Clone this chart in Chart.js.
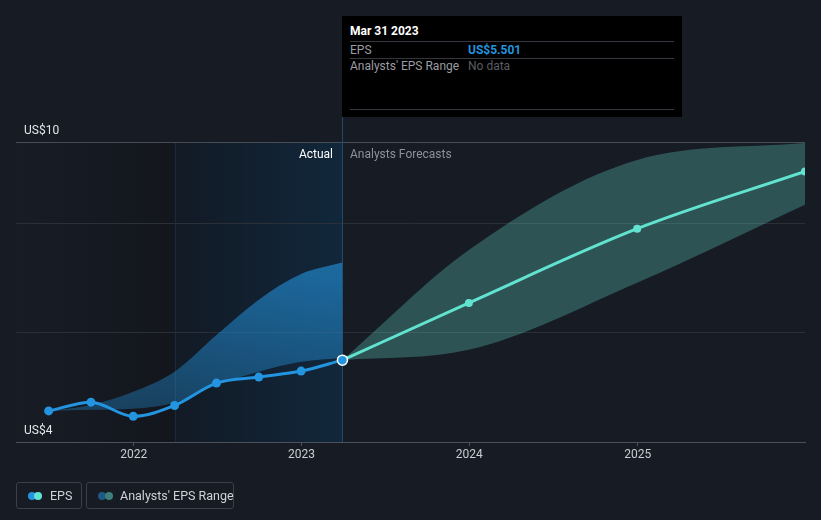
<!DOCTYPE html>
<html><head><meta charset="utf-8">
<script src="https://cdn.jsdelivr.net/npm/chart.js@4"></script>
<style>
html,body{margin:0;padding:0;background:#161b24;}
#wrap{position:relative;width:821px;height:520px;font-family:Roboto,"Open Sans",sans-serif;overflow:hidden;}
#c{position:absolute;left:0;top:0;}
#tip{position:absolute;top:16px;width:340px;height:101px;background:#000;}
#tip div{position:absolute;white-space:nowrap;line-height:14px;}
#tip .sep{height:1px;background:#34373d;left:8px;width:324px;}
.lbl{position:absolute;top:147px;font-size:12px;line-height:14px;white-space:nowrap;}
.lg{position:absolute;top:482px;height:25px;border:1px solid #3a3f49;border-radius:3px;box-sizing:content-box;}
.lg .dot{position:absolute;top:9px;width:8px;height:8px;border-radius:50%;}
.lg .t{position:absolute;top:5px;font-size:12.5px;line-height:15px;color:#cfd2d6;white-space:nowrap;}
</style></head><body>
<div id="wrap">
<canvas id="c" width="821" height="520"></canvas>
<div id="tip">
  <div style="left:8px;top:8px;font-size:12px;font-weight:bold;color:#fff;">Mar 31 2023</div>
  <div class="sep" style="top:25px;"></div>
  <div style="left:8px;top:27px;font-size:12px;color:#9a9da3;">EPS</div>
  <div id="tipVal" style="left:126px;top:27px;font-size:12px;font-weight:bold;color:#2394df;"></div>
  <div class="sep" style="top:42px;"></div>
  <div style="left:8px;top:43px;font-size:12px;color:#9a9da3;">Analysts' EPS Range</div>
  <div style="left:126px;top:43px;font-size:12px;color:#5a5d63;">No data</div>
  <div class="sep" style="top:93px;"></div>
</div>
<div class="lbl" id="lblA" style="color:#ffffff;">Actual</div>
<div class="lbl" id="lblF" style="color:#8d9199;">Analysts Forecasts</div>
<div class="lg" style="left:16px;width:64px;">
  <div class="dot" style="left:11px;background:#2394df;"></div>
  <div class="dot" style="left:17px;background:#62e3cf;"></div>
  <div class="t" style="left:33px;">EPS</div>
</div>
<div class="lg" style="left:86px;width:146px;">
  <div class="dot" style="left:11px;background:#1f5a86;"></div>
  <div class="dot" style="left:18px;background:#3d7f7a;"></div>
  <div class="t" style="left:33px;">Analysts' EPS Range</div>
</div>
</div>
<script>
// ---- data ----
const actualDates = ['2021-06-30','2021-09-30','2021-12-31','2022-03-31','2022-06-30','2022-09-30','2022-12-31','2023-03-31'];
const actualEps   = [4.57, 4.73, 4.47, 4.67, 5.08, 5.19, 5.30, 5.501];
const pastRangeHigh = [4.57, 4.68, 4.92, 5.29, 5.96, 6.61, 7.08, 7.29];
const pastRangeLow  = [4.57, 4.59, 4.61, 4.72, 5.05, 5.29, 5.47, 5.54];
const forecastDates = ['2023-03-31','2023-12-31','2024-12-31','2025-12-31'];
const forecastEps   = [5.501, 6.55, 7.91, 8.96];
const forecastHigh  = [5.501, 7.52, 9.17, 9.48];
const forecastLow   = [5.501, 5.69, 6.92, 8.35];
const xTickYears = [2022, 2023, 2024, 2025];
const yGridValues = [4, 6, 8, 9.5];
const yTickLabels = ['US$4', '', '', 'US$10'];
const xMinDate = '2021-04-20', xMaxDate = '2025-12-31';
const highlightStart = '2022-03-31';
const tooltipValue = 'US$5.501';

const t = d => Date.parse(d + 'T00:00:00Z');
const pts = (dates, vals) => dates.map((d, i) => ({x: t(d), y: vals[i]}));
const lastActual = t(actualDates[actualDates.length - 1]);
document.getElementById('tipVal').textContent = tooltipValue;

Chart.defaults.font.family = 'Roboto, "Open Sans", sans-serif';

const bgPlugin = {
  id: 'bg',
  beforeDraw(chart) {
    const {ctx, chartArea: a, scales: {x}} = chart;
    ctx.save();
    ctx.fillStyle = '#161b24';
    ctx.fillRect(0, 0, chart.width, chart.height);
    const xh = x.getPixelForValue(t(highlightStart));
    const xl = x.getPixelForValue(lastActual);
    let g = ctx.createLinearGradient(a.left, 0, xh, 0);
    g.addColorStop(0, '#181c25'); g.addColorStop(1, '#13161d');
    ctx.fillStyle = g; ctx.fillRect(a.left, a.top, xh - a.left, a.bottom - a.top);
    g = ctx.createLinearGradient(xh, 0, xl, 0);
    g.addColorStop(0, '#121a25'); g.addColorStop(1, '#11273b');
    ctx.fillStyle = g; ctx.fillRect(xh, a.top, xl - xh, a.bottom - a.top);
    ctx.strokeStyle = '#1b2a3a'; ctx.lineWidth = 1;
    ctx.beginPath(); ctx.moveTo(Math.round(xh) + 0.5, a.top); ctx.lineTo(Math.round(xh) + 0.5, a.bottom); ctx.stroke();
    ctx.restore();
  },
  afterDatasetsDraw(chart) {
    const {ctx, chartArea: a, scales: {x}} = chart;
    const xl = Math.round(x.getPixelForValue(lastActual)) + 0.5;
    ctx.save();
    ctx.strokeStyle = '#1e4a6b'; ctx.lineWidth = 1;
    ctx.beginPath(); ctx.moveTo(xl, 117); ctx.lineTo(xl, a.top); ctx.stroke();
    ctx.restore();
  },
  afterRender(chart) {
    const xl = chart.scales.x.getPixelForValue(lastActual);
    document.getElementById('tip').style.left = Math.round(xl) + 'px';
    document.getElementById('lblA').style.right = (821 - Math.round(xl) + 9) + 'px';
    document.getElementById('lblF').style.left = (Math.round(xl) + 8) + 'px';
  }
};

const vline = {
  id: 'vline',
  beforeDatasetsDraw(chart) {
    const {ctx, chartArea: a, scales: {x}} = chart;
    const xl = Math.round(x.getPixelForValue(lastActual)) + 0.5;
    ctx.save();
    ctx.strokeStyle = '#1e4a6b'; ctx.lineWidth = 1;
    ctx.beginPath(); ctx.moveTo(xl, a.top); ctx.lineTo(xl, a.bottom); ctx.stroke();
    ctx.restore();
  }
};

const blueFill = (c) => {
  const {ctx, chartArea: a, scales} = c.chart;
  if (!a) return 'rgba(35,148,223,0.5)';
  const g = ctx.createLinearGradient(0, scales.y.getPixelForValue(7.3), 0, scales.y.getPixelForValue(4.5));
  g.addColorStop(0, 'rgba(35,148,223,0.62)');
  g.addColorStop(1, 'rgba(35,148,223,0.32)');
  return g;
};

const n = actualEps.length;
new Chart(document.getElementById('c'), {
  type: 'line',
  data: {
    datasets: [
      { label: 'EPS', data: pts(actualDates, actualEps), borderColor: '#2394df', borderWidth: 3,
        backgroundColor: '#2394df', cubicInterpolationMode: 'monotone', order: 0, fill: false,
        pointRadius: actualEps.map((v, i) => i === n - 1 ? 5 : 4.5),
        pointBackgroundColor: '#2394df',
        pointBorderColor: actualEps.map((v, i) => i === n - 1 ? '#ffffff' : '#2394df'),
        pointBorderWidth: actualEps.map((v, i) => i === n - 1 ? 1.5 : 0) },
      { label: 'EPS forecast', data: pts(forecastDates, forecastEps), borderColor: '#62e3cf', borderWidth: 3,
        backgroundColor: '#62e3cf', cubicInterpolationMode: 'monotone', order: 1, fill: false, clip: 0,
        pointRadius: forecastEps.map((v, i) => i === 0 ? 0 : 4), pointBorderWidth: 0,
        pointBackgroundColor: '#62e3cf' },
      { label: 'range high past', data: pts(actualDates, pastRangeHigh), borderWidth: 0, pointRadius: 0,
        cubicInterpolationMode: 'monotone', fill: '+1', backgroundColor: blueFill, order: 3 },
      { label: 'range low past', data: pts(actualDates, pastRangeLow), borderWidth: 0, pointRadius: 0,
        cubicInterpolationMode: 'monotone', fill: false, order: 3 },
      { label: 'range high', data: pts(forecastDates, forecastHigh), borderWidth: 0, pointRadius: 0,
        cubicInterpolationMode: 'monotone', fill: '+1', backgroundColor: 'rgba(100,215,200,0.3)', order: 2 },
      { label: 'range low', data: pts(forecastDates, forecastLow), borderWidth: 0, pointRadius: 0,
        cubicInterpolationMode: 'monotone', fill: false, order: 2 }
    ]
  },
  options: {
    responsive: false, animation: false, events: [],
    layout: { padding: { left: 0, right: 16, top: 142, bottom: 55.6 } },
    plugins: { legend: { display: false }, tooltip: { enabled: false } },
    scales: {
      x: {
        type: 'linear', min: t(xMinDate), max: t(xMaxDate),
        afterBuildTicks: s => { s.ticks = xTickYears.map(y => ({value: Date.UTC(y, 0, 1)})); },
        ticks: { color: '#c9ccd1', font: { size: 12 }, padding: 2, maxRotation: 0,
          callback: v => String(new Date(v).getUTCFullYear()) },
        grid: { drawOnChartArea: false, drawTicks: true, tickLength: 4, color: '#4b505a' },
        border: { color: '#4b505a', width: 1 }
      },
      y: {
        type: 'linear', min: yGridValues[0], max: yGridValues[yGridValues.length - 1],
        afterBuildTicks: s => { s.ticks = yGridValues.map(v => ({value: v})); },
        ticks: { mirror: true, padding: 8, labelOffset: -11, color: '#e4e6e9', font: { size: 12 },
          callback: (v, i) => yTickLabels[i] },
        grid: { drawTicks: false, color: c => c.tick && c.tick.value === yGridValues[yGridValues.length - 1] ? '#474c55' : '#2a2f38' },
        border: { display: false }
      }
    }
  },
  plugins: [bgPlugin, vline]
});
</script>
</body></html>
